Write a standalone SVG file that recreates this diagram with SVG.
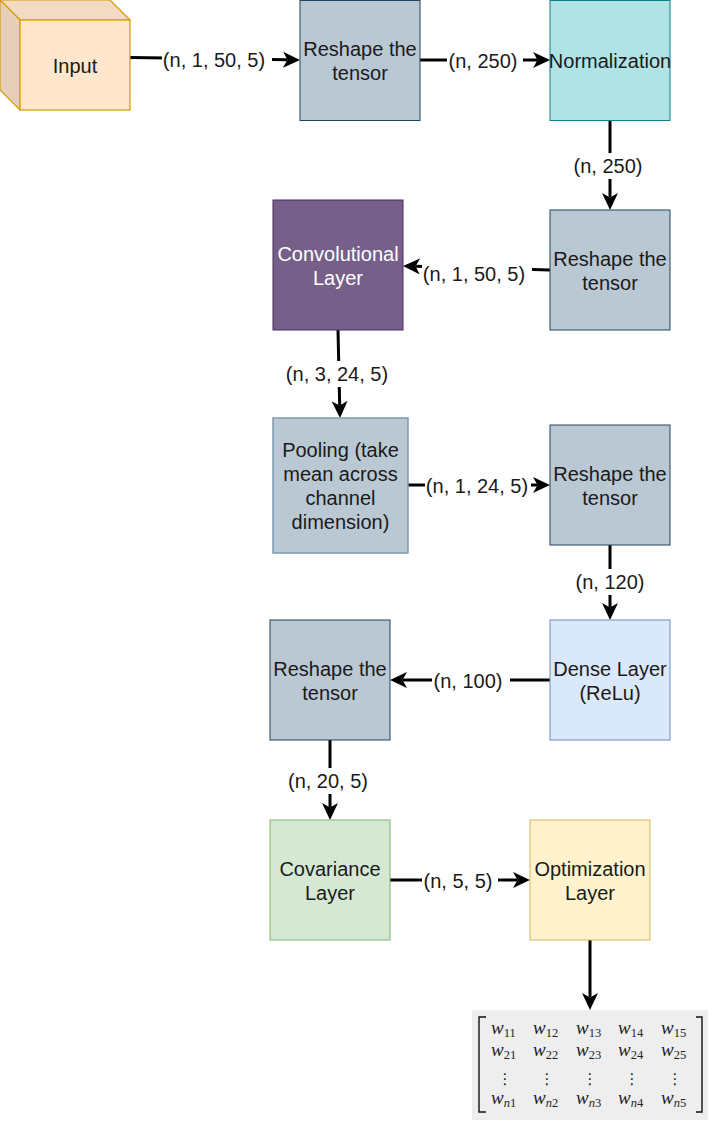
<svg xmlns="http://www.w3.org/2000/svg" width="709" height="1122" viewBox="0 0 709 1122">
<style>
  .t{font-family:"Liberation Sans",Arial,sans-serif;font-size:20px;fill:#1a1a1a;text-anchor:middle}
  .w{fill:#ffffff}
  .reshape{fill:#bac8d3;stroke:#23445d;stroke-width:1}
  .edge{fill:none;stroke:#000;stroke-width:3;marker-end:url(#arr)}
  .lbg{fill:#ffffff}
  .m{font-family:"Liberation Serif","Times New Roman",serif;font-size:19px;fill:#222;text-anchor:start}
  .mi{font-style:italic}
  .sub{font-size:12.5px;font-style:normal}
  .subi{font-size:12.5px;font-style:italic}
  .dots{font-family:"DejaVu Sans",sans-serif;font-size:15px;fill:#222;text-anchor:middle}
</style>
<defs>
  <marker id="arr" viewBox="0 0 17 16" refX="4.5" refY="8" markerWidth="17" markerHeight="16" markerUnits="userSpaceOnUse" orient="auto">
    <path d="M0,0 L17,8 L0,16 L4.5,8 Z" fill="#000"/>
  </marker>
</defs>

<g id="connectors">
  <path class="edge" d="M130,57.5 L287.5,59.8"/>
  <path class="edge" d="M420,60 L537.5,60"/>
  <path class="edge" d="M610,120 L610,197.5"/>
  <path class="edge" d="M550,270 L415.5,266.3"/>
  <path class="edge" d="M338,330 L339.7,405.5"/>
  <path class="edge" d="M408,485 L537.5,485"/>
  <path class="edge" d="M610,545 L610,607.5"/>
  <path class="edge" d="M550,680 L402.5,680"/>
  <path class="edge" d="M330,740 L330,807.5"/>
  <path class="edge" d="M390,880 L517.5,880"/>
  <path class="edge" d="M590,940 L590,997.5"/>

  <rect class="lbg" x="162" y="49" width="110" height="22"/>
  <text class="t" x="214" y="67">(n, 1, 50, 5)</text>
  <rect class="lbg" x="447" y="50" width="76" height="22"/>
  <text class="t" x="483" y="68">(n, 250)</text>
  <rect class="lbg" x="573" y="153" width="70" height="26"/>
  <text class="t" x="608" y="173">(n, 250)</text>
  <rect class="lbg" x="422" y="263" width="110" height="22"/>
  <text class="t" x="474" y="281">(n, 1, 50, 5)</text>
  <rect class="lbg" x="286" y="361" width="102" height="26"/>
  <text class="t" x="337" y="381">(n, 3, 24, 5)</text>
  <rect class="lbg" x="425" y="475" width="106" height="22"/>
  <text class="t" x="477" y="493">(n, 1, 24, 5)</text>
  <rect class="lbg" x="575" y="569" width="70" height="26"/>
  <text class="t" x="610" y="589">(n, 120)</text>
  <rect class="lbg" x="432" y="670" width="78" height="22"/>
  <text class="t" x="468" y="688">(n, 100)</text>
  <rect class="lbg" x="288" y="768" width="80" height="26"/>
  <text class="t" x="328" y="788">(n, 20, 5)</text>
  <rect class="lbg" x="422" y="870" width="76" height="22"/>
  <text class="t" x="458" y="888">(n, 5, 5)</text>
</g>

<g id="input">
  <path d="M0,0 L110,0 L130,20 L20,20 Z" fill="#f2dbc2" stroke="#d79b00" stroke-width="1.2"/>
  <path d="M0,0 L20,20 L20,110 L0,90 Z" fill="#e6cfb8" stroke="#d79b00" stroke-width="1.2"/>
  <rect x="20" y="20" width="110" height="90" fill="#ffe6cc" stroke="#d79b00" stroke-width="1.2"/>
  <text class="t" x="75" y="73">Input</text>
</g>

<g id="reshape1">
  <rect class="reshape" x="300" y="0.5" width="120" height="120"/>
  <text class="t" x="360" y="56">Reshape the</text>
  <text class="t" x="360" y="80">tensor</text>
</g>

<g id="normalization">
  <rect x="550" y="0.5" width="120" height="120" fill="#b0e3e6" stroke="#0e8088" stroke-width="1"/>
  <text class="t" x="610" y="68">Normalization</text>
</g>

<g id="reshape2">
  <rect class="reshape" x="550" y="210" width="120" height="120"/>
  <text class="t" x="610" y="266">Reshape the</text>
  <text class="t" x="610" y="290">tensor</text>
</g>

<g id="conv">
  <rect x="273" y="200" width="130" height="130" fill="#76608a" stroke="#432d57" stroke-width="1"/>
  <text class="t w" x="338" y="261">Convolutional</text>
  <text class="t w" x="338" y="285">Layer</text>
</g>

<g id="pooling">
  <rect x="273" y="418" width="135" height="135" fill="#bac8d3" stroke="#7f9ab0" stroke-width="1.5"/>
  <text class="t" x="340.5" y="457">Pooling (take</text>
  <text class="t" x="340.5" y="481">mean across</text>
  <text class="t" x="340.5" y="505">channel</text>
  <text class="t" x="340.5" y="529">dimension)</text>
</g>

<g id="reshape3">
  <rect class="reshape" x="550" y="425" width="120" height="120"/>
  <text class="t" x="610" y="481">Reshape the</text>
  <text class="t" x="610" y="505">tensor</text>
</g>

<g id="dense">
  <rect x="550" y="620" width="120" height="120" fill="#dae8fc" stroke="#6c8ebf" stroke-width="1"/>
  <text class="t" x="610" y="676">Dense Layer</text>
  <text class="t" x="610" y="700">(ReLu)</text>
</g>

<g id="reshape4">
  <rect class="reshape" x="270" y="620" width="120" height="120"/>
  <text class="t" x="330" y="676">Reshape the</text>
  <text class="t" x="330" y="700">tensor</text>
</g>

<g id="covariance">
  <rect x="270" y="820" width="120" height="120" fill="#d5e8d4" stroke="#82b366" stroke-width="1"/>
  <text class="t" x="330" y="876">Covariance</text>
  <text class="t" x="330" y="900">Layer</text>
</g>

<g id="optimization">
  <rect x="530" y="820" width="120" height="120" fill="#fff2cc" stroke="#d6b656" stroke-width="1"/>
  <text class="t" x="590" y="876">Optimization</text>
  <text class="t" x="590" y="900">Layer</text>
</g>

<g id="matrix">
  <rect x="472" y="1010" width="236" height="110" fill="#eeeeee"/>
  <path d="M486,1017 H479 V1112 H486" fill="none" stroke="#111" stroke-width="1.4"/>
  <path d="M696,1017 H702 V1112 H696" fill="none" stroke="#111" stroke-width="1.4"/>

  <text class="m" y="1034"><tspan class="mi" x="491">w</tspan><tspan class="sub" dy="3">11</tspan></text>
  <text class="m" y="1034"><tspan class="mi" x="533">w</tspan><tspan class="sub" dy="3">12</tspan></text>
  <text class="m" y="1034"><tspan class="mi" x="576">w</tspan><tspan class="sub" dy="3">13</tspan></text>
  <text class="m" y="1034"><tspan class="mi" x="618">w</tspan><tspan class="sub" dy="3">14</tspan></text>
  <text class="m" y="1034"><tspan class="mi" x="661">w</tspan><tspan class="sub" dy="3">15</tspan></text>

  <text class="m" y="1056"><tspan class="mi" x="491">w</tspan><tspan class="sub" dy="3">21</tspan></text>
  <text class="m" y="1056"><tspan class="mi" x="533">w</tspan><tspan class="sub" dy="3">22</tspan></text>
  <text class="m" y="1056"><tspan class="mi" x="576">w</tspan><tspan class="sub" dy="3">23</tspan></text>
  <text class="m" y="1056"><tspan class="mi" x="618">w</tspan><tspan class="sub" dy="3">24</tspan></text>
  <text class="m" y="1056"><tspan class="mi" x="661">w</tspan><tspan class="sub" dy="3">25</tspan></text>

  <text class="dots" x="505" y="1084">⋮</text>
  <text class="dots" x="547" y="1084">⋮</text>
  <text class="dots" x="590" y="1084">⋮</text>
  <text class="dots" x="632" y="1084">⋮</text>
  <text class="dots" x="675" y="1084">⋮</text>

  <text class="m" y="1104"><tspan class="mi" x="491">w</tspan><tspan class="subi" dy="3">n</tspan><tspan class="sub">1</tspan></text>
  <text class="m" y="1104"><tspan class="mi" x="533">w</tspan><tspan class="subi" dy="3">n</tspan><tspan class="sub">2</tspan></text>
  <text class="m" y="1104"><tspan class="mi" x="576">w</tspan><tspan class="subi" dy="3">n</tspan><tspan class="sub">3</tspan></text>
  <text class="m" y="1104"><tspan class="mi" x="618">w</tspan><tspan class="subi" dy="3">n</tspan><tspan class="sub">4</tspan></text>
  <text class="m" y="1104"><tspan class="mi" x="661">w</tspan><tspan class="subi" dy="3">n</tspan><tspan class="sub">5</tspan></text>
</g>
</svg>
